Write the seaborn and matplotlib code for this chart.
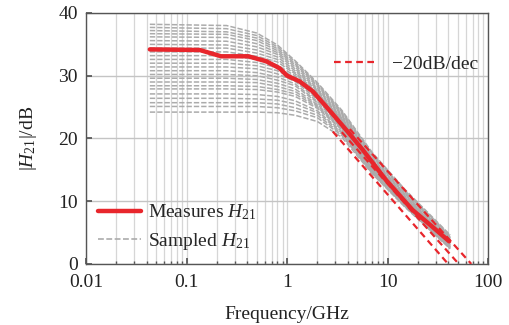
import numpy as np
import pandas as pd
import matplotlib
matplotlib.use("Agg")
import matplotlib.pyplot as plt
from matplotlib.lines import Line2D
from matplotlib.ticker import FixedLocator, FixedFormatter, LogLocator, NullFormatter
import seaborn as sns

# measured |H21| (red curve)
meas_freq = [0.043, 0.135, 0.22, 0.41, 0.62, 0.84, 1.0, 1.33, 1.8, 2.6, 4.0, 5.65, 9.6, 17.7, 28, 41]
meas_db = [34.2, 34.1, 33.1, 33.1, 32.3, 31.2, 30.0, 29.1, 27.5, 24.6, 21.1, 18.2, 13.4, 8.6, 5.9, 3.6]

# sampled |H21| curves (grey dashed), all on the same frequency grid
samp_freq = [0.043, 0.25, 0.5, 0.8, 1.2, 2, 3.5, 7, 15, 42]
sampled_db = [
    [38.2, 38.0, 36.8, 34.9, 32.4, 28.9, 24.5, 17.8, 11.8, 4.6],
    [37.7, 37.5, 36.4, 34.6, 32.2, 28.7, 24.3, 17.6, 11.6, 4.5],
    [37.2, 37.0, 36.0, 34.3, 31.9, 28.5, 24.1, 17.4, 11.5, 4.3],
    [36.7, 36.6, 35.6, 34.0, 31.7, 28.3, 23.9, 17.2, 11.3, 4.2],
    [36.2, 36.1, 35.1, 33.7, 31.4, 28.0, 23.7, 17.0, 11.1, 4.1],
    [35.6, 35.5, 34.6, 33.4, 31.1, 27.8, 23.5, 16.8, 11.0, 4.0],
    [35.0, 34.9, 34.1, 33.0, 30.8, 27.6, 23.3, 16.6, 10.8, 3.8],
    [34.4, 34.4, 33.6, 32.6, 30.5, 27.3, 23.1, 16.4, 10.6, 3.7],
    [33.8, 33.8, 33.1, 32.2, 30.3, 27.2, 23.0, 16.3, 10.6, 3.6],
    [33.2, 33.2, 32.6, 31.7, 30.0, 26.9, 22.9, 16.1, 10.4, 3.5],
    [32.6, 32.6, 32.1, 31.3, 29.7, 26.7, 22.8, 16.0, 10.3, 3.4],
    [32.0, 32.0, 31.6, 30.8, 29.4, 26.4, 22.5, 15.8, 10.2, 3.3],
    [31.4, 31.4, 31.1, 30.3, 29.1, 26.2, 22.4, 15.7, 10.1, 3.2],
    [30.8, 30.8, 30.5, 29.8, 28.7, 25.9, 22.2, 15.5, 9.9, 3.1],
    [30.2, 30.2, 30.0, 29.3, 28.4, 25.7, 22.0, 15.4, 9.8, 3.0],
    [29.6, 29.6, 29.4, 28.8, 27.9, 25.4, 21.8, 15.2, 9.7, 2.9],
    [29.0, 29.0, 28.9, 28.3, 27.5, 25.2, 21.7, 15.1, 9.6, 2.9],
    [28.4, 28.4, 28.3, 27.8, 27.1, 25.0, 21.5, 15.0, 9.5, 2.8],
    [27.9, 27.9, 27.8, 27.4, 26.7, 24.8, 21.4, 14.9, 9.4, 2.7],
    [27.1, 27.1, 27.0, 26.7, 26.0, 24.4, 21.1, 14.8, 9.3, 2.7],
    [26.4, 26.4, 26.3, 26.1, 25.5, 24.1, 20.9, 14.7, 9.2, 2.6],
    [25.7, 25.7, 25.7, 25.5, 24.9, 23.7, 20.7, 14.6, 9.2, 2.5],
    [25.1, 25.1, 25.1, 24.9, 24.4, 23.3, 20.5, 14.5, 9.1, 2.5],
    [24.2, 24.2, 24.2, 24.1, 23.7, 22.7, 20.2, 14.4, 9.0, 2.4],
]

# -20dB/dec guide lines (start, end)
guide_lo_freq = [2.85, 40]
guide_lo_db = [21.1, 0]
guide_mid_freq = [3.5, 51]
guide_mid_db = [21.0, 0]
guide_hi_freq = [4.2, 68]
guide_hi_db = [21.5, 0]

x_ticks = [0.01, 0.1, 1, 10, 100]
x_ticklabels = ["0.01", "0.1", "1", "10", "100"]
y_ticks = [0, 10, 20, 30, 40]

sns.set_theme(style="ticks")
plt.rcParams["font.family"] = ["Liberation Serif", "DejaVu Serif"]
plt.rcParams["mathtext.fontset"] = "custom"
plt.rcParams["mathtext.rm"] = "Liberation Serif"
plt.rcParams["mathtext.it"] = "Liberation Serif:italic"

red = "#e8262c"
grey = "#ababab"

rows = []
for i, vals in enumerate(sampled_db):
    for f, v in zip(samp_freq, vals):
        rows.append({"curve": i, "f": f, "db": v})
df_samp = pd.DataFrame(rows)
df_meas = pd.DataFrame({"f": meas_freq, "db": meas_db})

fig = plt.figure(figsize=(5.1, 3.25), dpi=100)
ax = fig.add_axes([0.169, 0.188, 0.788, 0.772])
ax.set_xscale("log")

sns.lineplot(data=df_samp, x="f", y="db", units="curve", estimator=None,
             color=grey, lw=1.1, linestyle=(0, (3.5, 1.3)), legend=False, ax=ax, zorder=2)

for gf, gd in [(guide_lo_freq, guide_lo_db), (guide_mid_freq, guide_mid_db), (guide_hi_freq, guide_hi_db)]:
    sns.lineplot(x=gf, y=gd, color=red, lw=1.6, linestyle=(0, (3, 2)), ax=ax, zorder=3)

sns.lineplot(data=df_meas, x="f", y="db", color=red, lw=3.2, ax=ax, zorder=4)

ax.set_xlim(0.01, 100)
ax.set_ylim(0, 40)
ax.xaxis.set_major_locator(FixedLocator(x_ticks))
ax.xaxis.set_major_formatter(FixedFormatter(x_ticklabels))
ax.xaxis.set_minor_locator(LogLocator(base=10, subs=np.arange(2, 10)))
ax.xaxis.set_minor_formatter(NullFormatter())
ax.set_yticks(y_ticks)

ax.grid(True, which="major", axis="y", color="#c4c4c4", lw=1.0, zorder=0)
ax.grid(True, which="both", axis="x", color="#d6d6d6", lw=0.9, zorder=0)
ax.set_axisbelow(True)

ax.tick_params(which="both", direction="in", colors="#555555", labelcolor="#222222",
               labelsize=14)
ax.tick_params(which="major", length=4)
ax.tick_params(which="minor", length=2.5)
ax.tick_params(axis="x", which="major", pad=7)
ax.tick_params(axis="y", which="major", pad=6)
for s in ax.spines.values():
    s.set_color("#555555")
    s.set_linewidth(1.0)

ax.set_xlabel("Frequency/GHz", fontsize=14, color="#222222", labelpad=11)
ax.set_ylabel(r"$|H_{21}|$/dB", fontsize=14, color="#222222", labelpad=14)

h_meas = Line2D([], [], color=red, lw=3.2)
h_samp = Line2D([], [], color=grey, lw=1.2, linestyle=(0, (3.5, 1.5)))
leg1 = ax.legend([h_meas, h_samp], [r"Measures $H_{21}$", r"Sampled $H_{21}$"],
                 loc="lower left", frameon=False, fontsize=14, handlelength=2.2,
                 handletextpad=0.4, borderaxespad=0.2, labelspacing=0.45)
ax.add_artist(leg1)
h_guide = Line2D([], [], color=red, lw=1.6, linestyle=(0, (3, 2)))
ax.legend([h_guide], ["\u221220dB/dec"], loc="upper right", frameon=False, fontsize=14,
          handlelength=2.2, handletextpad=0.8, bbox_to_anchor=(1.02, 0.9))

fig.savefig("out.png", dpi=100)
